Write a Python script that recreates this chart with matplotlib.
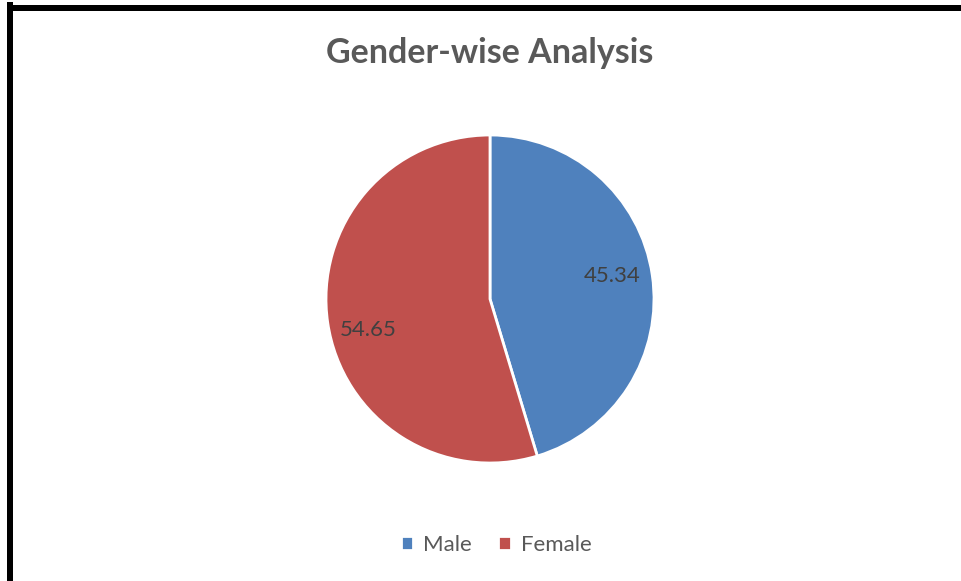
import matplotlib
matplotlib.use('Agg')
import matplotlib.pyplot as plt
from matplotlib.lines import Line2D

categories = ['Male', 'Female']
values = [45.34, 54.65]
colors = ['#4F81BD', '#C0504D']

plt.rcParams['font.family'] = ['Lato', 'DejaVu Sans']

W, H = 961, 581
fig = plt.figure(figsize=(W / 100, H / 100), dpi=100)
fig.patch.set_facecolor('white')

# pie axes: centre (490, 299) px, radius 164 px
cx, cy, r = 490, 299, 164
ax = fig.add_axes([(cx - r) / W, (H - cy - r) / H, 2 * r / W, 2 * r / H])
total = sum(values)
wedges, _, autotexts = ax.pie(
    values, colors=colors, startangle=90, counterclock=False,
    autopct=lambda p: f'{p * total / 100:.2f}', pctdistance=0.75,
    wedgeprops=dict(edgecolor='white', linewidth=2),
    textprops=dict(color='#404040', fontsize=16))
# excel-style "best fit" nudges of the data labels
for t, dy in zip(autotexts, [0.03, -0.08]):
    x, y = t.get_position()
    t.set_position((x, y + dy))
ax.set_xlim(-1, 1)
ax.set_ylim(-1, 1)
ax.set_aspect('equal')
ax.axis('off')

fig.text(490 / W, 1 - 53 / H, 'Gender-wise Analysis', ha='center', va='center',
         fontsize=24.5, fontweight='bold', color='#595959')

fig.legend(wedges, categories, loc='center', bbox_to_anchor=(496 / W, 1 - 545 / H),
           ncol=2, frameon=False, fontsize=16, handlelength=0.55, handleheight=0.55,
           handletextpad=0.45, columnspacing=1.2, labelcolor='#595959')

# frame lines (left and top edges)
lw = 6 * 72 / 100
fig.add_artist(Line2D([10 / W, 10 / W], [0, 1 - 5 / H], color='black', lw=lw,
                      solid_capstyle='projecting'))
fig.add_artist(Line2D([10 / W, 1], [1 - 8 / H, 1 - 8 / H], color='black', lw=lw,
                      solid_capstyle='projecting'))

fig.savefig('out.png', dpi=100)
